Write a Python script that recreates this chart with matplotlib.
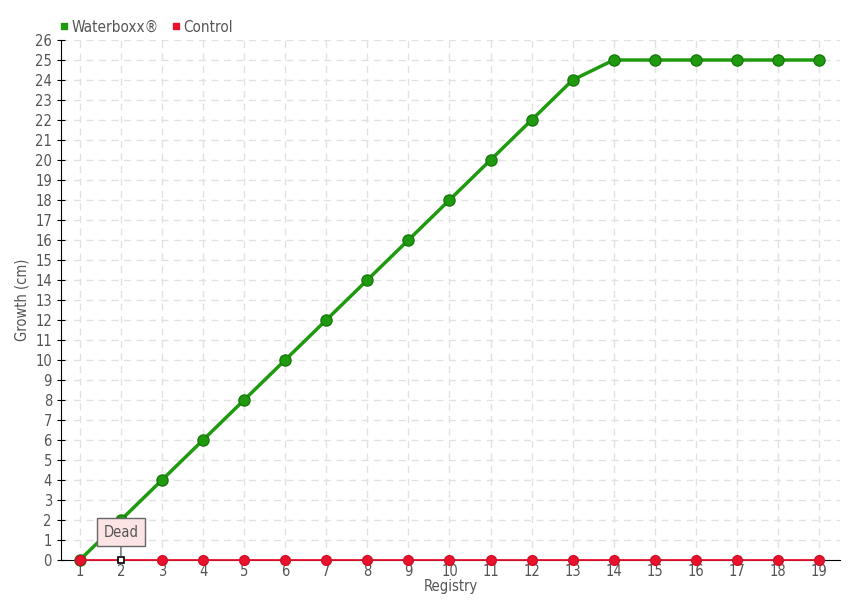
import numpy as np
import matplotlib
matplotlib.use('Agg')
import matplotlib.pyplot as plt
from matplotlib.lines import Line2D

registry = list(range(1, 20))
waterboxx = [0, 2, 4, 6, 8, 10, 12, 14, 16, 18, 20, 22, 24, 25, 25, 25, 25, 25, 25]
control = [0] * 19
dead_idx = 1
yticks = list(range(0, 27))

green = '#1f9a0f'
red = '#e8122d'
txt = '#555555'

plt.rcParams['font.family'] = ['DejaVu Sans']
plt.rcParams['font.stretch'] = 'condensed'
plt.rcParams['font.size'] = 10

fig = plt.figure(figsize=(8.6, 6.0), dpi=100)
ax = fig.add_axes([0.0709, 0.0667, 0.9058, 0.8666])

ax.plot(registry, waterboxx, color=green, lw=2.5, marker='o', ms=8,
        mfc=green, mec='#187a0c', mew=1, zorder=3, clip_on=False)
ax.plot(registry, control, color=red, lw=1.3, zorder=4, clip_on=False)
cx = [r for i, r in enumerate(registry) if i != dead_idx]
cy = [c for i, c in enumerate(control) if i != dead_idx]
ax.plot(cx, cy, ls='none', marker='o', ms=7, mfc=red, mec='#d01028',
        zorder=4, clip_on=False)
ax.plot(registry[dead_idx], control[dead_idx], ls='none', marker='s', ms=5,
        mfc='white', mec='black', mew=1.2, zorder=5, clip_on=False)

ax.annotate('Dead', xy=(registry[dead_idx], control[dead_idx]),
            xytext=(0, 20), textcoords='offset points', ha='center', va='center',
            color=txt, fontsize=10.5,
            bbox=dict(boxstyle='square,pad=0.45', fc='#fde4e4', ec='#666666', lw=1),
            arrowprops=dict(arrowstyle='-', color='#666666', lw=1, shrinkA=0, shrinkB=3),
            zorder=6)

ax.set_xlim(0.54, 19.51)
ax.set_ylim(0, 26)
ax.set_xticks(registry)
ax.set_yticks(yticks)
ax.grid(True, ls=(0, (5, 4)), color='#e2e2e2', lw=1)
ax.set_axisbelow(True)
for s in ['top', 'right']:
    ax.spines[s].set_visible(False)
ax.spines['left'].set_color('black')
ax.spines['bottom'].set_color('black')
ax.tick_params(axis='y', direction='inout', length=6, colors='black', labelcolor=txt, labelsize=10.5)
ax.tick_params(axis='x', length=0, labelcolor=txt, labelsize=10.5, pad=3)
ax.set_xlabel('Registry', color=txt, fontsize=10.5, labelpad=0)
ax.set_ylabel('Growth (cm)', color=txt, fontsize=10.5, labelpad=4)

handles = [Line2D([], [], ls='none', marker='s', ms=5, mfc=green, mec=green),
           Line2D([], [], ls='none', marker='s', ms=5, mfc=red, mec=red)]
fig.legend(handles, ['Waterboxx®', 'Control'], loc='upper left',
           bbox_to_anchor=(0.05, 0.99), ncol=2, frameon=False,
           handletextpad=0.0, columnspacing=0.6, fontsize=11,
           labelcolor=txt, handlelength=1.0)

fig.savefig('out.png', dpi=100)
